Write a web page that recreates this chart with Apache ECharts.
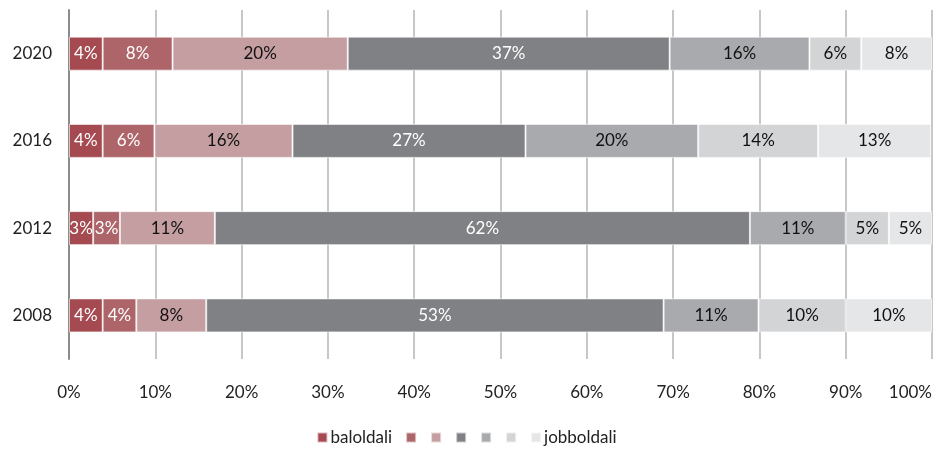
<!DOCTYPE html>
<html>
<head>
<meta charset="utf-8">
<script src="https://cdn.jsdelivr.net/npm/echarts@6/dist/echarts.min.js"></script>
<style>html,body{margin:0;padding:0;background:#fff}#c{width:933px;height:452px}</style>
</head>
<body>
<div id="c"></div>
<script>
const categories = ['2008', '2012', '2016', '2020'];
const seriesNames = ['baloldali', 's2', 's3', 's4', 's5', 's6', 'jobboldali'];
const s1 = [3.9, 2.8, 3.9, 3.9];
const s2 = [3.9, 3.1, 6.0, 8.1];
const s3 = [8.1, 11.0, 16.0, 20.3];
const s4 = [53.0, 62.0, 27.0, 37.3];
const s5 = [11.0, 11.1, 20.0, 16.2];
const s6 = [10.1, 5.0, 13.9, 6.0];
const s7 = [10.0, 5.0, 13.1, 8.2];
const xTicks = [0, 10, 20, 30, 40, 50, 60, 70, 80, 90, 100];

const values = [s1, s2, s3, s4, s5, s6, s7];
const colors = ['#a44a50', '#ad6569', '#c49ea1', '#808185', '#a9aaae', '#d3d4d6', '#e5e6e8'];
const labelColors = ['#fff', '#fff', '#111', '#fff', '#111', '#111', '#111'];
const FONT = 'Lato';

const chart = echarts.init(document.getElementById('c'), null, {renderer: 'canvas'});
chart.setOption({
  animation: false,
  textStyle: {fontFamily: FONT},
  grid: {left: 69, right: 1, top: 10, bottom: 93, containLabel: false, outerBoundsMode: 'none'},
  legend: {
    bottom: 1,
    left: 'center',
    icon: 'rect',
    itemWidth: 10,
    itemHeight: 10,
    itemGap: 13,
    data: seriesNames,
    formatter: n => (n === 'baloldali' || n === 'jobboldali') ? n : '',
    textStyle: {fontFamily: FONT, fontSize: 17, color: '#222', padding: [0, 0, 0, -2]}
  },
  xAxis: {
    type: 'value',
    min: xTicks[0],
    max: xTicks[xTicks.length - 1],
    interval: 10,
    axisLine: {show: false},
    axisTick: {show: false},
    splitLine: {show: true, lineStyle: {color: '#b4b4b4', width: 1.5}},
    axisLabel: {
      formatter: v => v + '%',
      fontFamily: FONT, fontSize: 17, color: '#222', margin: 25,
      alignMaxLabel: 'right'
    }
  },
  yAxis: {
    type: 'category',
    data: categories,
    axisLine: {show: true, lineStyle: {color: '#8c8c8c', width: 2}},
    axisTick: {show: false},
    axisLabel: {fontFamily: FONT, fontSize: 17, color: '#222', margin: 17}
  },
  series: seriesNames.map((name, i) => ({
    name: name,
    type: 'bar',
    stack: 'total',
    barWidth: 34,
    data: values[i],
    itemStyle: {color: colors[i], borderColor: 'rgba(255,255,255,0.6)', borderWidth: 1},
    label: {
      show: true,
      position: 'inside',
      formatter: p => Math.round(p.value) + '%',
      fontFamily: FONT, fontSize: 17, color: labelColors[i]
    }
  }))
});
</script>
</body>
</html>
